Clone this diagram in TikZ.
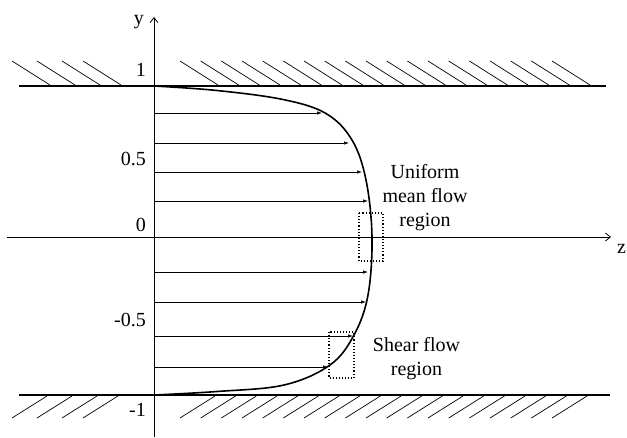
\documentclass[tikz,border=0pt]{standalone}
\usepackage{fontspec}
\setmainfont{Liberation Serif}
\usetikzlibrary{arrows.meta}
\tikzset{wall/.style={line width=2.2pt}, hatch/.style={line width=0.7pt},
  axis/.style={line width=0.8pt, -{Straight Barb[length=5pt,width=8pt]}},
  flowarrow/.style={line width=0.7pt, -{Latex[length=5pt,width=3.5pt]}},
  regionbox/.style={dotted, line width=1.1pt},
  lbl/.style={font=\fontsize{20}{24}\selectfont, inner sep=0pt}}

\begin{document}
\begin{tikzpicture}[x=1pt, y=-1pt]
            \useasboundingbox (0,0) rectangle (627,437);
            \coordinate (o) at (154,237); \coordinate (t) at (154,86); \coordinate (b) at (154,395);
            \coordinate (yb) at (154,437); \coordinate (yt) at (154,17); \coordinate (zl) at (7,237); \coordinate (zr) at (611,237);
            % Walls
            \draw[wall] (19,86) -- (606,86) (19,395) -- (610,395);
            \foreach \x in {12,37,62,83} {\draw[hatch] (\x,61) -- ++(38,24); \draw[hatch] (\x,418) -- ++(35,-22);}
            \foreach \i in {0,...,18} {\draw[hatch] (180+20.67*\i,61) -- ++(38,24); \draw[hatch] (180+20.67*\i,418) -- ++(35,-22);}
            % Axes
            \draw[axis] (yb) -- (yt);
            \draw[axis] (zl) -- (zr);
            \node[lbl, anchor=base east] (ylbl) at (144,24) {y};
            \node[lbl, anchor=base west] (zlbl) at (617,253) {z};
            \foreach \y/\v/\n in {76/1/p1, 165/0.5/p05, 231.7/0/z0, 326.7/-0.5/m05, 416/-1/m1}
                \node[lbl, anchor=base east] (\n) at (146,\y) {\v};
            % Profile
            \draw[line width=1.6pt] plot[smooth, tension=0.6] coordinates {(t) (217,90.5) (283,99.5) (326,113.5)
                (352,140) (366,180) (372,237) (368,295) (354,335) (330,365) (284,385) (217,391.5) (b)};
            \foreach \y/\x [count=\n] in {113/322, 143/349, 172/362, 201/368, 272/368, 302/366, 336/353, 367/328} {
                \coordinate (s\n) at (154,\y); \coordinate (e\n) at (\x,\y);
                \draw[flowarrow] (s\n) -- (e\n);
            }
            % Regions
            \draw[regionbox] (359,213) rectangle (383,261);
            \draw[regionbox] (329,332) rectangle (354,378);
            \node[lbl, align=center] (uniform) at (425,198) {Uniform\\mean flow\\region};
            \node[lbl, align=center] (shear) at (416.5,359) {Shear flow\\region};
        \end{tikzpicture}
\end{document}
